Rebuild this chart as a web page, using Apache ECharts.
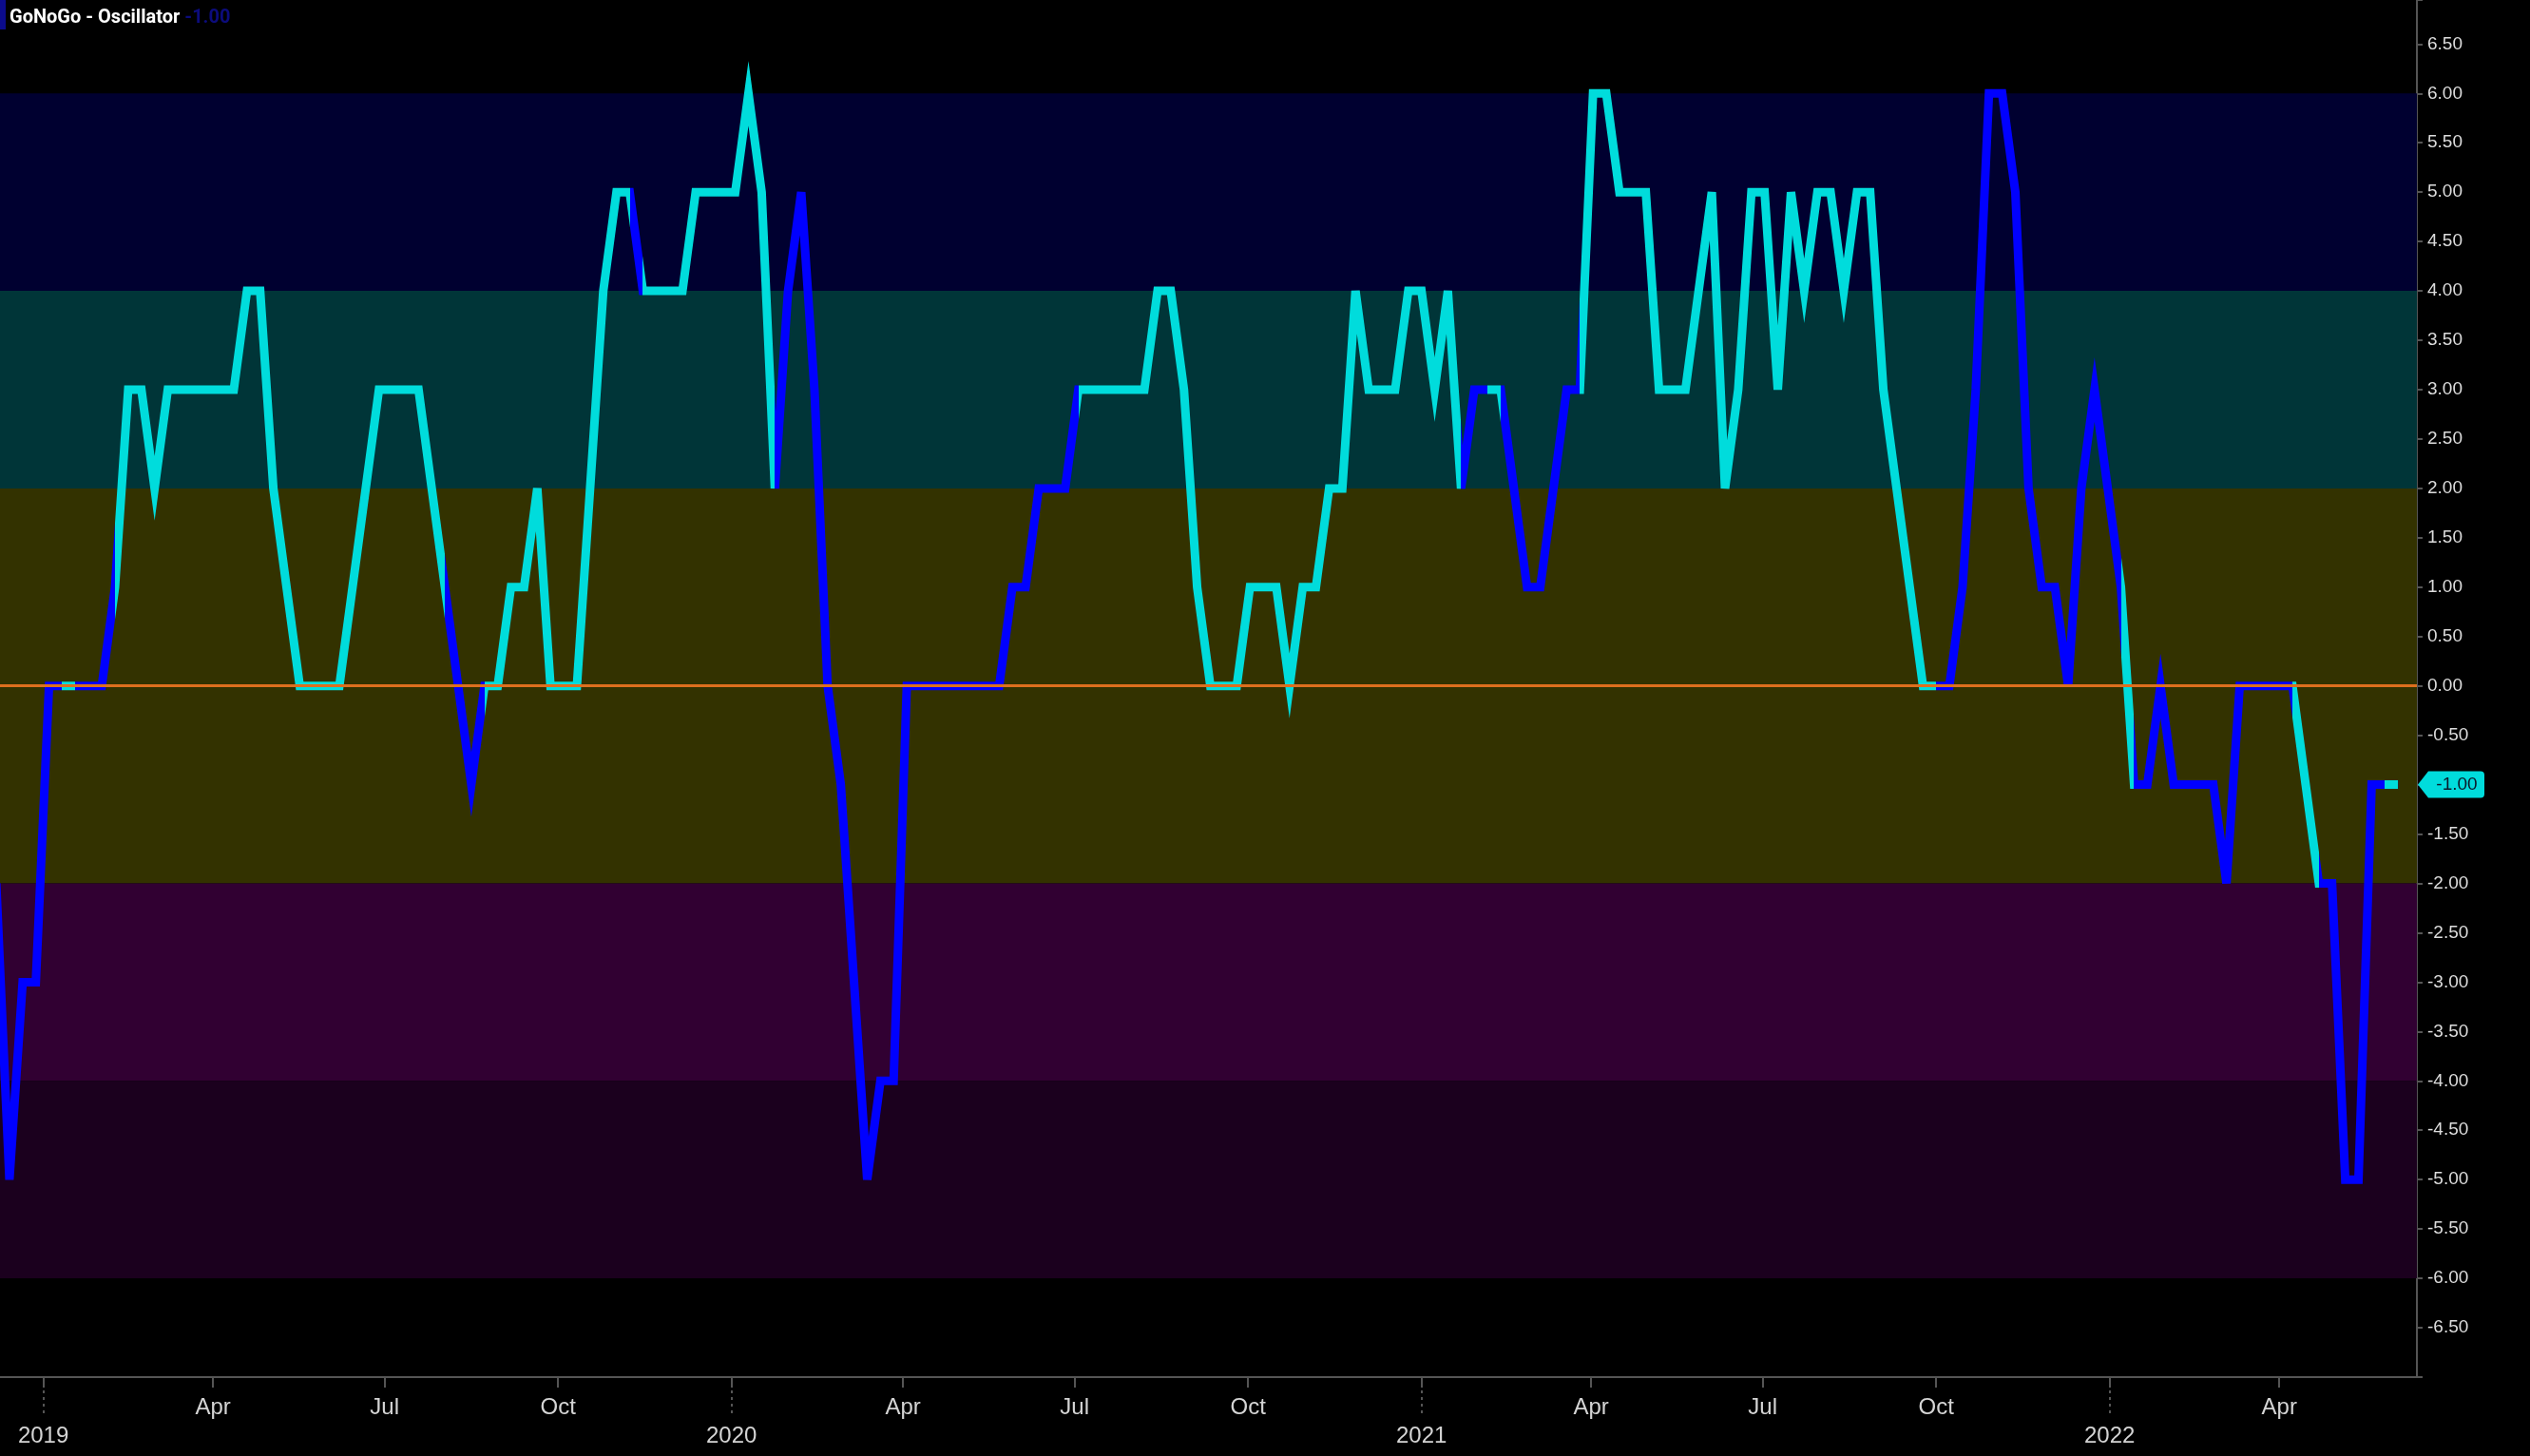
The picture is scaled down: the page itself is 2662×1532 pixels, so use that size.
<!DOCTYPE html>
<html>
<head>
<meta charset="utf-8">
<script src="https://cdn.jsdelivr.net/npm/echarts@6/dist/echarts.min.js"></script>
<style>
html,body{margin:0;padding:0;background:#000;}
#chart{width:2662px;height:1532px;}
</style>
</head>
<body>
<div id="chart"></div>
<script>
// ---------------- data ----------------
const firstWeek = '2018-12-07';            // first weekly bar (Fridays)
const oscValues = [
  -2, -5, -3, -3,  0,  0,  0,  0,  0,  1,  3,  3,  2,  3,  3,  3,  3,  3,  3,  4,
   4,  2,  1,  0,  0,  0,  0,  1,  2,  3,  3,  3,  3,  2,  1,  0, -1,  0,  0,  1,
   1,  2,  0,  0,  0,  2,  4,  5,  5,  4,  4,  4,  4,  5,  5,  5,  5,  6,  5,  2,
   4,  5,  3,  0, -1, -3, -5, -4, -4,  0,  0,  0,  0,  0,  0,  0,  0,  1,  1,  2,
   2,  2,  3,  3,  3,  3,  3,  3,  4,  4,  3,  1,  0,  0,  0,  1,  1,  1,  0,  1,
   1,  2,  2,  4,  3,  3,  3,  4,  4,  3,  4,  2,  3,  3,  3,  2,  1,  1,  2,  3,
   3,  6,  6,  5,  5,  5,  3,  3,  3,  4,  5,  2,  3,  5,  5,  3,  5,  4,  5,  5,
   4,  5,  5,  3,  2,  1,  0,  0,  0,  1,  3,  6,  6,  5,  2,  1,  1,  0,  2,  3,
   2,  1, -1, -1,  0, -1, -1, -1, -1, -2,  0,  0,  0,  0,  0, -1, -2, -2, -5, -5,
  -1, -1, -1
];
// trend state of the segment ending at each point: G = Go (cyan), N = NoGo (blue)
const trendRuns = [
  ['N', 6], ['G', 1], ['N', 3], ['G', 25], ['N', 3], ['G', 11], ['N', 1], ['G', 10],
  ['N', 23], ['G', 29], ['N', 2], ['G', 1], ['N', 6], ['G', 27], ['N', 14], ['G', 1],
  ['N', 12], ['G', 2], ['N', 5], ['G', 1]
];
const zoneEdges = [6, 4, 2, -2, -4, -6];
const quarterTicks = ['2019-01-01','2019-04-01','2019-07-01','2019-10-01',
                      '2020-01-01','2020-04-01','2020-07-01','2020-10-01',
                      '2021-01-01','2021-04-01','2021-07-01','2021-10-01',
                      '2022-01-01','2022-04-01'];
const monthNames = ['Jan','Feb','Mar','Apr','May','Jun','Jul','Aug','Sep','Oct','Nov','Dec'];
const axisStart = '2018-12-09';
const axisEnd = '2022-06-13';
const titleText = 'GoNoGo - Oscillator';

// ---------------- build ----------------
const DAY = 86400000;
const ts = s => Date.parse(s + 'T00:00:00Z');
const GO = '#00dcdc', NOGO = '#0000ff';
const dates = oscValues.map((_, i) => ts(firstWeek) + i * 7 * DAY);
const seriesData = dates.map((d, i) => [d, oscValues[i]]);
const lastValue = oscValues[oscValues.length - 1];

const segState = [];
trendRuns.forEach(([c, n]) => { for (let j = 0; j < n; j++) segState.push(c); });
const pieces = [];
for (let i = 1; i < dates.length; i++) {
  const col = segState[i] === 'G' ? GO : NOGO;
  const last = pieces[pieces.length - 1];
  if (last && last.color === col) last.lte = dates[i];
  else pieces.push({ gte: dates[i - 1], lte: dates[i], color: col });
}

const zoneColors = ['#000030', '#003538', '#333200', '#310032', '#1b001e'];
const bands = [];
for (let i = 0; i < zoneEdges.length - 1; i++) {
  bands.push([{ yAxis: zoneEdges[i], itemStyle: { color: zoneColors[i], opacity: 1 } },
              { yAxis: zoneEdges[i + 1] }]);
}

const quarterTs = quarterTicks.map(ts);
const yearTs = quarterTicks.filter(s => s.endsWith('-01-01')).map(ts);
const monthLabelTs = quarterTicks.filter(s => !s.endsWith('-01-01')).map(ts);
const xMin = ts(axisStart), xMax = ts(axisEnd);

const chart = echarts.init(document.getElementById('chart'), null, { renderer: 'canvas' });
chart.setOption({
  animation: false,
  backgroundColor: '#000000',
  title: {
    text: '{a|' + titleText + '} {b|' + lastValue.toFixed(2) + '}',
    left: 10, top: 9, padding: 0,
    textStyle: {
      rich: {
        a: { fontFamily: 'Roboto', fontWeight: 'bold', fontSize: 20, color: '#ffffff' },
        b: { fontFamily: 'Roboto', fontSize: 20, color: '#0c0c7c' }
      }
    }
  },
  graphic: [{
    type: 'rect', left: 0, top: 0, z: 10,
    shape: { width: 6, height: 31 },
    style: { fill: '#0b0b8c' }
  }],
  grid: { left: 0, right: 119, top: 0, bottom: 83, containLabel: false, outerBoundsMode: 'none' },
  visualMap: {
    type: 'piecewise', show: false, dimension: 0, seriesIndex: 1,
    pieces: pieces, outOfRange: { color: NOGO }
  },
  xAxis: [{
    type: 'value', min: xMin, max: xMax, position: 'bottom',
    axisLine: { show: true, onZero: false, lineStyle: { color: '#555555', width: 2 } },
    axisTick: { show: true, customValues: quarterTs, length: 11, lineStyle: { color: '#555555', width: 2 } },
    axisLabel: {
      show: true, customValues: monthLabelTs, margin: 20,
      color: '#d4d4d4', fontSize: 24, fontFamily: 'Liberation Sans',
      formatter: v => monthNames[new Date(v).getUTCMonth()]
    },
    splitLine: { show: false }
  }, {
    type: 'value', min: xMin, max: xMax, position: 'bottom',
    axisLine: { show: false, onZero: false },
    axisTick: { show: true, customValues: yearTs, length: 38, lineStyle: { color: '#555555', width: 2, type: [3, 4] } },
    axisLabel: {
      show: true, customValues: yearTs, margin: 50,
      color: '#d4d4d4', fontSize: 24, fontFamily: 'Liberation Sans',
      formatter: v => String(new Date(v).getUTCFullYear())
    },
    splitLine: { show: false }
  }],
  yAxis: {
    type: 'value', position: 'right', min: -7, max: 6.946, interval: 0.5,
    axisLine: { show: true, lineStyle: { color: '#555555', width: 2 } },
    axisTick: { show: true, length: 6, lineStyle: { color: '#555555', width: 2 } },
    axisLabel: {
      color: '#dcdcdc', fontSize: 19, fontFamily: 'Liberation Sans', margin: 11,
      formatter: v => (Math.abs(v) > 6.6 ? '' : v.toFixed(2))
    },
    splitLine: { show: false }
  },
  series: [{
    type: 'line', data: seriesData, symbol: 'none', silent: true, z: 1,
    lineStyle: { opacity: 0, width: 0 },
    markArea: { silent: true, data: bands }
  }, {
    type: 'line', data: seriesData, symbol: 'none', showSymbol: false, silent: true, z: 2,
    lineStyle: { width: 9, join: 'miter', miterLimit: 10, cap: 'butt' }
  }, {
    type: 'line', data: seriesData, symbol: 'none', silent: true, z: 3,
    lineStyle: { opacity: 0, width: 0 },
    markLine: {
      silent: true, symbol: 'none', z: 5,
      label: { show: false },
      lineStyle: { color: '#dd6f1e', width: 3, type: 'solid' },
      data: [{ yAxis: 0 }]
    },
    markPoint: {
      silent: true, z: 6,
      data: [{
        coord: [xMax, lastValue], value: lastValue,
        symbol: 'path://M0,14 L11,0 L66,0 Q70,0 70,4 L70,24 Q70,28 66,28 L11,28 Z',
        symbolSize: [70, 28], symbolOffset: [36, 0],
        itemStyle: { color: GO },
        label: {
          show: true, position: 'inside', offset: [6, 0],
          formatter: lastValue.toFixed(2),
          color: '#0a1a2a', fontSize: 19, fontFamily: 'Liberation Sans'
        }
      }]
    }
  }]
});
</script>
</body>
</html>
